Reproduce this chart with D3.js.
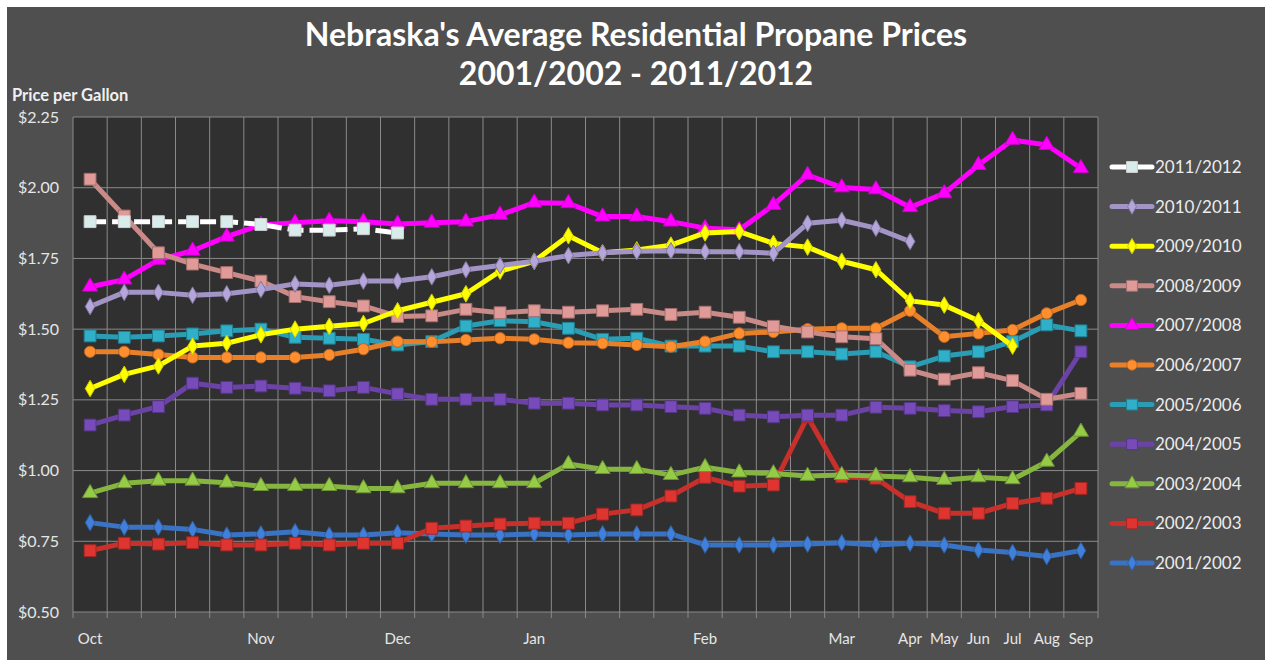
<!DOCTYPE html>
<html>
<head>
<meta charset="utf-8">
<script src="https://cdn.jsdelivr.net/npm/d3@7"></script>
<style>
  body { margin: 0; background: #ffffff; }
  svg { display: block; }
</style>
</head>
<body>
<svg id="chart"></svg>
<script>
// 30 categories: weekly Oct-Mar, then monthly Apr-Sep
let monthLabels = ['Oct','','','','','Nov','','','','Dec','','','','Jan','','','','','Feb','','','','Mar','','Apr','May','Jun','Jul','Aug','Sep']

let seriesNames = ['2011/2012','2010/2011','2009/2010','2008/2009','2007/2008','2006/2007','2005/2006','2004/2005','2003/2004','2002/2003','2001/2002']

let p2011 = [1.88,1.88,1.88,1.88,1.88,1.87,1.85,1.85,1.855,1.84]
let p2010 = [1.58,1.63,1.63,1.62,1.625,1.64,1.66,1.655,1.67,1.67,1.685,1.71,1.725,1.74,1.76,1.77,1.775,1.777,1.774,1.774,1.768,1.874,1.885,1.857,1.81]
let p2009 = [1.29,1.34,1.37,1.44,1.45,1.48,1.50,1.51,1.52,1.565,1.595,1.625,1.705,1.74,1.83,1.77,1.78,1.797,1.84,1.845,1.803,1.79,1.74,1.71,1.60,1.585,1.53,1.44]
let p2008 = [2.03,1.90,1.77,1.73,1.70,1.67,1.615,1.597,1.582,1.545,1.547,1.57,1.558,1.565,1.56,1.565,1.57,1.552,1.56,1.542,1.51,1.49,1.473,1.466,1.355,1.323,1.346,1.318,1.252,1.273]
let p2007 = [1.65,1.675,1.745,1.777,1.827,1.868,1.876,1.883,1.88,1.872,1.876,1.88,1.904,1.947,1.945,1.898,1.898,1.88,1.857,1.851,1.939,2.045,2.001,1.994,1.931,1.98,2.08,2.169,2.151,2.069]
let p2006 = [1.42,1.42,1.41,1.40,1.40,1.40,1.40,1.409,1.429,1.456,1.455,1.462,1.468,1.464,1.452,1.45,1.444,1.438,1.456,1.485,1.49,1.50,1.503,1.503,1.565,1.473,1.485,1.497,1.556,1.603]
let p2005 = [1.476,1.471,1.476,1.483,1.494,1.50,1.471,1.468,1.464,1.444,1.456,1.511,1.53,1.526,1.503,1.464,1.468,1.44,1.44,1.44,1.42,1.42,1.412,1.42,1.367,1.405,1.42,1.456,1.515,1.494]
let p2004 = [1.161,1.196,1.226,1.309,1.294,1.299,1.291,1.282,1.294,1.271,1.252,1.252,1.252,1.238,1.238,1.232,1.232,1.226,1.22,1.196,1.19,1.196,1.196,1.224,1.22,1.212,1.208,1.226,1.232,1.42]
let p2003 = [0.92,0.955,0.964,0.964,0.957,0.945,0.945,0.945,0.937,0.937,0.955,0.955,0.955,0.955,1.023,1.005,1.005,0.984,1.012,0.993,0.99,0.981,0.984,0.981,0.976,0.967,0.976,0.969,1.031,1.137]
let p2002 = [0.717,0.743,0.74,0.745,0.737,0.737,0.743,0.737,0.743,0.743,0.796,0.804,0.811,0.814,0.814,0.846,0.861,0.91,0.976,0.945,0.949,1.19,0.978,0.973,0.89,0.849,0.849,0.884,0.902,0.937]
let p2001 = [0.816,0.80,0.80,0.792,0.772,0.776,0.784,0.772,0.772,0.78,0.776,0.772,0.772,0.776,0.772,0.776,0.776,0.776,0.737,0.737,0.737,0.74,0.745,0.737,0.743,0.737,0.719,0.71,0.696,0.717]

let yTicks = [0.5,0.75,1.0,1.25,1.5,1.75,2.0,2.25]

let seriesValues = [p2011,p2010,p2009,p2008,p2007,p2006,p2005,p2004,p2003,p2002,p2001]
let seriesColors = ['#ffffff','#a294c4','#ffff00','#c98a88','#ff00ff','#e8802a','#2a9db4','#6b43a6','#86b640','#c8302c','#3a73c4']
let seriesShapes = [d3.symbolSquare,d3.symbolDiamond,d3.symbolDiamond,d3.symbolSquare,d3.symbolTriangle,d3.symbolCircle,d3.symbolSquare,d3.symbolSquare,d3.symbolTriangle,d3.symbolSquare,d3.symbolDiamond]

let width = 1265
let height = 660
let plotLeft = 73
let plotRight = 1098
let plotTop = 117
let plotBottom = 612

let markSize = shape => {
    if (shape == d3.symbolSquare) return 140
    if (shape == d3.symbolDiamond) return 80
    return 100
}

let svg = d3.select('#chart').attr('width', width).attr('height', height)

// background panel
svg.append('rect')
   .attr('x', 7).attr('y', 7)
   .attr('width', width - 7).attr('height', height - 7)
   .attr('fill', '#4f4f4f')

svg.append('rect')
   .attr('x', plotLeft).attr('y', plotTop)
   .attr('width', plotRight - plotLeft).attr('height', plotBottom - plotTop)
   .attr('fill', '#303030')

let xScale = d3.scaleBand()
               .domain(d3.range(monthLabels.length))
               .range([plotLeft, plotRight])
let yScale = d3.scaleLinear()
               .domain([0.5, 2.25])
               .range([plotBottom, plotTop])

// gridlines
svg.append('g')
   .selectAll('line')
   .data(yTicks)
   .enter()
   .append('line')
   .attr('x1', plotLeft).attr('x2', plotRight)
   .attr('y1', d => yScale(d)).attr('y2', d => yScale(d))
   .attr('stroke', '#8a8a8a').attr('stroke-width', 1)

let vLines = d3.range(monthLabels.length).map(i => xScale(i)).concat([plotRight])
svg.append('g')
   .selectAll('line')
   .data(vLines)
   .enter()
   .append('line')
   .attr('x1', d => d).attr('x2', d => d)
   .attr('y1', plotTop).attr('y2', plotBottom + 6)
   .attr('stroke', '#8a8a8a').attr('stroke-width', 1)

// axes
let yAxis = d3.axisLeft(yScale)
              .tickValues(yTicks)
              .tickSize(0)
              .tickPadding(14)
              .tickFormat(d3.format('$.2f'))
svg.append('g')
   .attr('transform', 'translate(' + plotLeft + ',0)')
   .call(yAxis)
   .call(g => g.select('.domain').remove())
   .selectAll('text')
   .attr('fill', '#e6e6e6')
   .style('font-family', 'Lato, "Open Sans", sans-serif')
   .style('font-size', '16px')

let xAxis = d3.axisBottom(xScale)
              .tickSize(0)
              .tickPadding(21)
              .tickFormat(i => monthLabels[i])
svg.append('g')
   .attr('transform', 'translate(0,' + plotBottom + ')')
   .call(xAxis)
   .call(g => g.select('.domain').remove())
   .selectAll('text')
   .attr('fill', '#e6e6e6')
   .style('font-family', 'Lato, "Open Sans", sans-serif')
   .style('font-size', '15px')

// titles
svg.append('text')
   .text("Nebraska's Average Residential Propane Prices")
   .attr('x', 636).attr('y', 46)
   .attr('text-anchor', 'middle')
   .attr('fill', '#ffffff')
   .style('font-family', 'Lato, sans-serif')
   .style('font-weight', 'bold')
   .style('font-size', '32px')

svg.append('text')
   .text('2001/2002 - 2011/2012')
   .attr('x', 636).attr('y', 85)
   .attr('text-anchor', 'middle')
   .attr('fill', '#ffffff')
   .style('font-family', 'Lato, sans-serif')
   .style('font-weight', 'bold')
   .style('font-size', '32px')

svg.append('text')
   .text('Price per Gallon')
   .attr('x', 12).attr('y', 101)
   .attr('fill', '#f0f0f0')
   .style('font-family', 'Lato, sans-serif')
   .style('font-weight', 'bold')
   .style('font-size', '16.5px')

// series lines and markers, oldest drawn first
let line = d3.line()
             .x((d, i) => xScale(i) + xScale.bandwidth() / 2)
             .y(d => yScale(d))

for (let s = seriesValues.length - 1; s >= 0; s--) {
    let vals = seriesValues[s]
    let g = svg.append('g')
    g.append('path')
     .datum(vals)
     .attr('d', line)
     .attr('fill', 'none')
     .attr('stroke', seriesColors[s])
     .attr('stroke-width', 5)
     .attr('stroke-linejoin', 'round')
     .attr('stroke-dasharray', s == 0 ? '16,6' : null)
    g.selectAll('path.mark')
     .data(vals)
     .enter()
     .append('path')
     .attr('class', 'mark')
     .attr('d', d3.symbol().type(seriesShapes[s]).size(markSize(seriesShapes[s])))
     .attr('transform', (d, i) => 'translate(' + (xScale(i) + xScale.bandwidth() / 2) + ',' + yScale(d) + ')')
     .attr('fill', s == 0 ? '#d8ecec' : d3.color(seriesColors[s]).brighter(0.3))
     .attr('stroke', d3.color(seriesColors[s]).darker(0.6))
     .attr('stroke-width', 1)
}

// legend
let legend = svg.append('g')
seriesNames.forEach((name, s) => {
    let ly = 167 + s * 39.6
    legend.append('line')
          .attr('x1', 1112).attr('x2', 1152)
          .attr('y1', ly).attr('y2', ly)
          .attr('stroke', seriesColors[s])
          .attr('stroke-width', 5)
          .attr('stroke-linecap', 'round')
    legend.append('path')
          .attr('d', d3.symbol().type(seriesShapes[s]).size(markSize(seriesShapes[s]) * 0.85))
          .attr('transform', 'translate(1132,' + ly + ')')
          .attr('fill', s == 0 ? '#d8ecec' : d3.color(seriesColors[s]).brighter(0.3))
          .attr('stroke', d3.color(seriesColors[s]).darker(0.6))
    legend.append('text')
          .text(name)
          .attr('x', 1155).attr('y', ly + 6)
          .attr('fill', '#ececec')
          .style('font-family', 'Lato, sans-serif')
          .style('font-size', '17px')
})
</script>
</body>
</html>
